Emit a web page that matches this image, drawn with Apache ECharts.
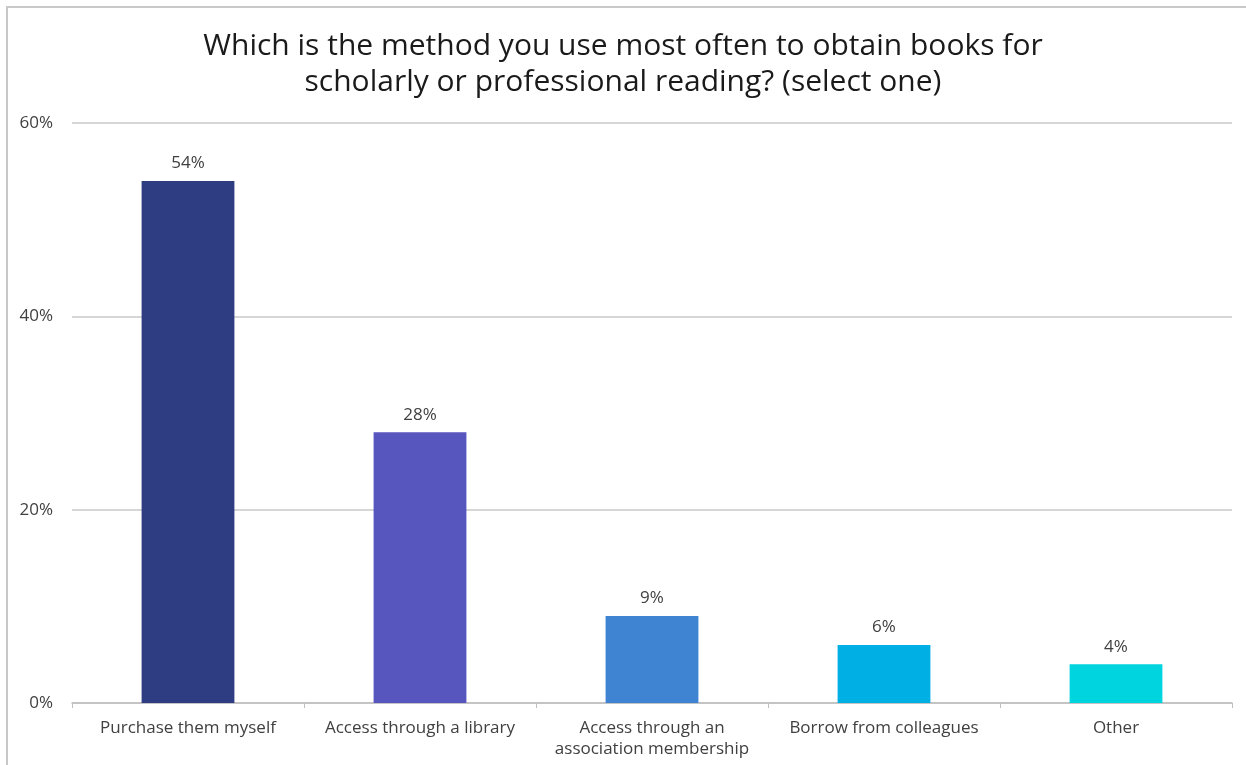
<!DOCTYPE html>
<html>
<head>
<meta charset="utf-8">
<script src="https://cdn.jsdelivr.net/npm/echarts@6/dist/echarts.min.js"></script>
<style>
  html, body { margin: 0; padding: 0; background: #ffffff; }
  #chart { width: 1246px; height: 765px; }
</style>
</head>
<body>
<div id="chart"></div>
<script>
// Survey answers and their shares (percent of respondents)
const categories = [
  'Purchase them myself',
  'Access through a library',
  'Access through an\nassociation membership',
  'Borrow from colleagues',
  'Other'
];
const shares = [54, 28, 9, 6, 4];
const barColors = ['#2e3d82', '#5755be', '#3e84d2', '#00b0e4', '#00d5df'];
const yTicks = [0, 20, 40, 60];
const titleText = 'Which is the method you use most often to obtain books for\nscholarly or professional reading? (select one)';

const FONT = '"Open Sans", "Noto Sans", sans-serif';
const chart = echarts.init(document.getElementById('chart'), null, { renderer: 'canvas' });

chart.setOption({
  backgroundColor: '#ffffff',
  animation: false,
  title: {
    text: titleText,
    left: 'center',
    top: 23,
    textStyle: {
      fontFamily: FONT,
      fontSize: 30,
      fontWeight: 'normal',
      color: '#1a1a1a',
      lineHeight: 36
    }
  },
  // outer frame of the chart area (right and bottom edges fall off the page)
  graphic: [{
    type: 'rect',
    shape: { x: 7, y: 7, width: 1300, height: 800 },
    style: { fill: 'none', stroke: '#c8c8c8', lineWidth: 2 },
    silent: true
  }],
  grid: { left: 72, right: 14, top: 123, bottom: 62, containLabel: false },
  xAxis: {
    type: 'category',
    data: categories,
    axisLine: { lineStyle: { color: '#bfbfbf', width: 1.5 } },
    axisTick: { show: true, alignWithLabel: false, length: 5, lineStyle: { color: '#bfbfbf' } },
    axisLabel: {
      fontFamily: FONT,
      fontSize: 17,
      color: '#404040',
      margin: 15,
      lineHeight: 21,
      interval: 0
    }
  },
  yAxis: {
    type: 'value',
    min: yTicks[0],
    max: yTicks[yTicks.length - 1],
    interval: 20,
    axisLine: { show: false },
    axisTick: { show: false },
    splitLine: { lineStyle: { color: '#c8c8c8', width: 1.5 } },
    axisLabel: {
      fontFamily: FONT,
      fontSize: 17,
      color: '#404040',
      margin: 19,
      formatter: v => v + '%'
    }
  },
  series: [{
    type: 'bar',
    barWidth: '40%',
    data: shares.map((v, i) => ({ value: v, itemStyle: { color: barColors[i] } })),
    label: {
      show: true,
      position: 'top',
      distance: 9,
      fontFamily: FONT,
      fontSize: 17,
      color: '#404040',
      formatter: p => p.value + '%'
    }
  }]
});
</script>
</body>
</html>
